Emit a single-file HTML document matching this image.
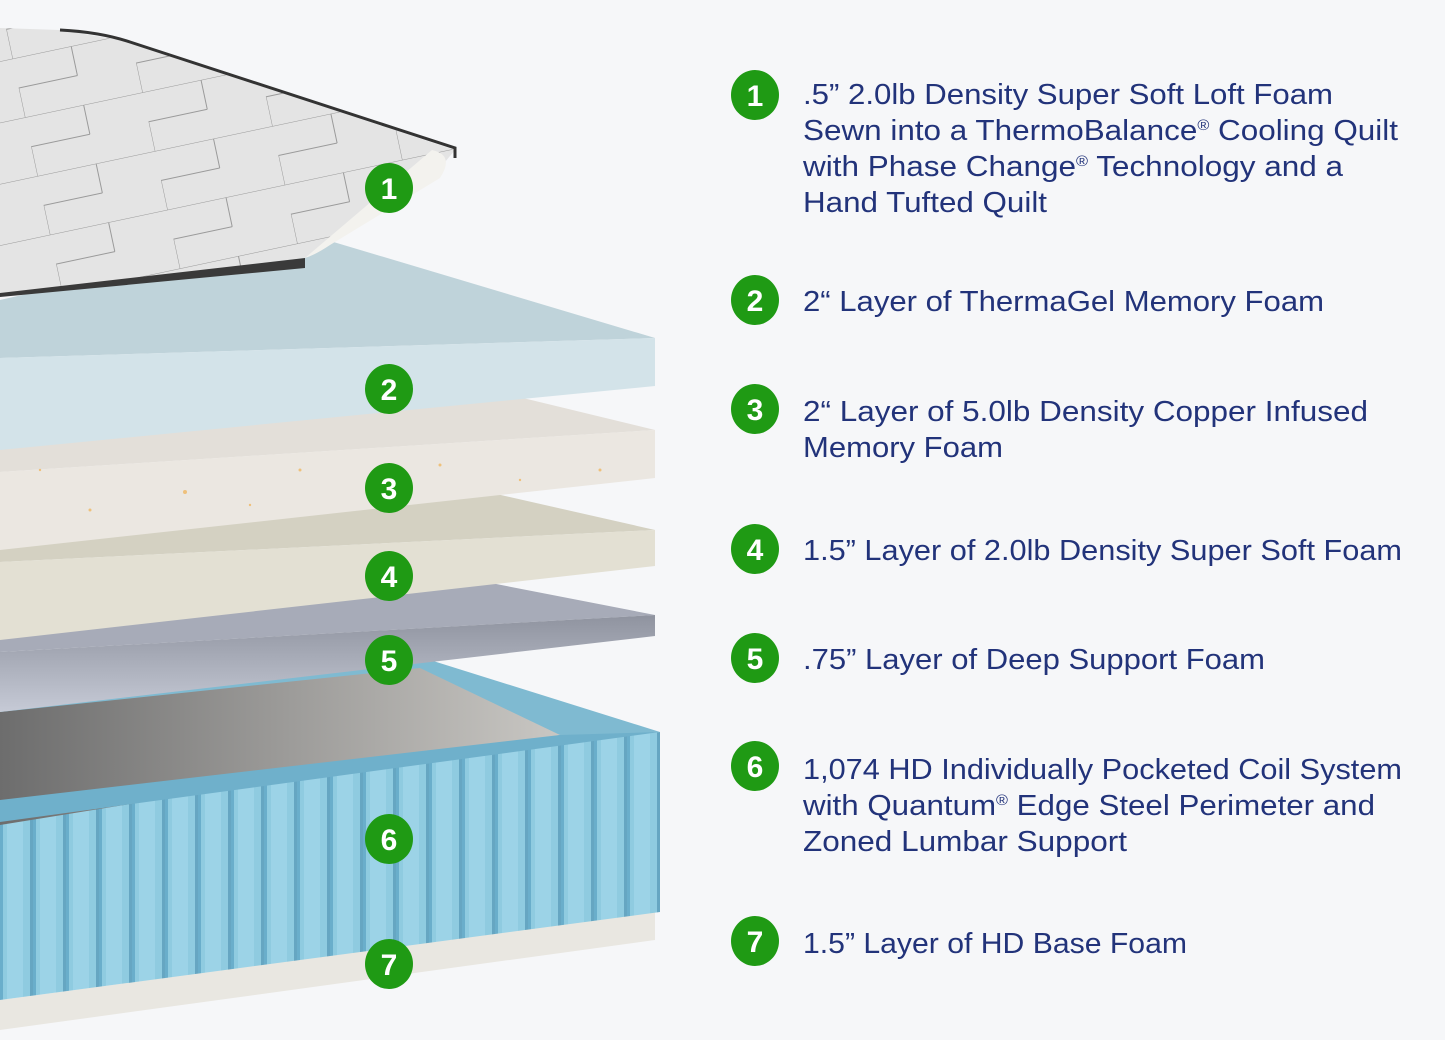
<!DOCTYPE html>
<html><head><meta charset="utf-8"><style>
html,body{margin:0;padding:0;background:#f6f7f9;}
svg{display:block;}
.t{font-family:"Liberation Sans",sans-serif;font-size:29px;fill:#22337a;}
.b{font-family:"Liberation Sans",sans-serif;font-size:30px;font-weight:bold;fill:#fff;}
.s{font-size:15px;}
</style></head><body>
<svg width="1445" height="1040" viewBox="0 0 1445 1040" xmlns="http://www.w3.org/2000/svg">
<defs>
<pattern id="coil" x="0" y="0" width="33" height="400" patternUnits="userSpaceOnUse">
<rect width="33" height="400" fill="#8fcbe0"/>
<rect x="0" width="3" height="400" fill="#6aaecb"/>
<rect x="7" width="16" height="400" fill="#9cd3e7"/>
<rect x="30" width="3" height="400" fill="#66a6c2"/>
</pattern>
<linearGradient id="gray" x1="0" y1="0" x2="1" y2="0">
<stop offset="0" stop-color="#6d6d6d"/><stop offset="1" stop-color="#c9c7c3"/>
</linearGradient>
<linearGradient id="l5" x1="0" y1="0" x2="0" y2="1">
<stop offset="0" stop-color="#8f939f"/><stop offset="1" stop-color="#c6cad6"/>
</linearGradient>
<pattern id="quilt" width="120" height="60" patternUnits="userSpaceOnUse" patternTransform="rotate(-12)">
<rect width="120" height="60" fill="#e4e4e4"/>
<path d="M0 0 H120 M0 30 H60 M60 0 V30 M0 30 V60" stroke="#9a9a9a" stroke-width="1" fill="none"/>
</pattern>
</defs>
<rect width="1445" height="1040" fill="#f6f7f9"/>

<polygon points="0,1000 655,912 655,940 0,1030" fill="#e9e7e1"/>
<polygon points="0,812 660,732 660,912 0,1000" fill="url(#coil)"/>
<polygon points="0,705 430,660 660,732 0,812" fill="#7fbad1"/>
<polygon points="0,712 420,668 560,735 0,825" fill="url(#gray)"/>
<polygon points="0,800 560,735 660,732 0,822" fill="#6fb0cb"/>
<polygon points="0,620 450,575 655,615 0,652" fill="#a7abb8"/>
<polygon points="0,652 655,615 655,636 0,712" fill="url(#l5)"/>
<polygon points="0,530 470,488 655,530 0,562" fill="#d4d1c2"/>
<polygon points="0,562 655,530 655,566 0,640" fill="#e3e0d3"/>
<polygon points="0,425 490,390 655,430 0,472" fill="#e3dfd9"/>
<polygon points="0,472 655,430 655,478 0,550" fill="#ebe7e1"/>
<g fill="#f0b050" opacity="0.7">
<circle cx="185" cy="492" r="2"/><circle cx="440" cy="465" r="1.5"/><circle cx="600" cy="470" r="1.5"/><circle cx="90" cy="510" r="1.5"/><circle cx="300" cy="470" r="1.5"/><circle cx="250" cy="505" r="1.2"/><circle cx="520" cy="480" r="1.2"/><circle cx="40" cy="470" r="1.2"/>
</g>
<polygon points="0,300 300,232 655,338 0,358" fill="#bfd3da"/>
<polygon points="0,358 655,338 655,386 0,450" fill="#d3e3e9"/>
<polygon points="0,28 60,30 120,40 455,150 430,180 360,225 305,258 0,295" fill="url(#quilt)"/>
<path d="M432,150 Q455,155 440,178 L330,245 Q315,255 305,258 Z" fill="#f3f2ee"/>
<path d="M60,30 Q100,32 130,42 L455,148 L455,158" stroke="#333" stroke-width="3" fill="none"/>
<path d="M0,293 L305,258 L305,268 L0,297 Z" fill="#3a3a3a"/>

<g>
<ellipse cx="389" cy="188" rx="24" ry="25" fill="#1f9a14"/><text class="b" x="389" y="199" text-anchor="middle">1</text>
<ellipse cx="389" cy="389" rx="24" ry="25" fill="#1f9a14"/><text class="b" x="389" y="400" text-anchor="middle">2</text>
<ellipse cx="389" cy="488" rx="24" ry="25" fill="#1f9a14"/><text class="b" x="389" y="499" text-anchor="middle">3</text>
<ellipse cx="389" cy="576" rx="24" ry="25" fill="#1f9a14"/><text class="b" x="389" y="587" text-anchor="middle">4</text>
<ellipse cx="389" cy="660" rx="24" ry="25" fill="#1f9a14"/><text class="b" x="389" y="671" text-anchor="middle">5</text>
<ellipse cx="389" cy="839" rx="24" ry="25" fill="#1f9a14"/><text class="b" x="389" y="850" text-anchor="middle">6</text>
<ellipse cx="389" cy="964" rx="24" ry="25" fill="#1f9a14"/><text class="b" x="389" y="975" text-anchor="middle">7</text>
</g>
<g>
<ellipse cx="755" cy="95" rx="24" ry="25" fill="#1f9a14"/><text class="b" x="755" y="106" text-anchor="middle">1</text>
<ellipse cx="755" cy="300" rx="24" ry="25" fill="#1f9a14"/><text class="b" x="755" y="311" text-anchor="middle">2</text>
<ellipse cx="755" cy="409" rx="24" ry="25" fill="#1f9a14"/><text class="b" x="755" y="420" text-anchor="middle">3</text>
<ellipse cx="755" cy="549" rx="24" ry="25" fill="#1f9a14"/><text class="b" x="755" y="560" text-anchor="middle">4</text>
<ellipse cx="755" cy="658" rx="24" ry="25" fill="#1f9a14"/><text class="b" x="755" y="669" text-anchor="middle">5</text>
<ellipse cx="755" cy="766" rx="24" ry="25" fill="#1f9a14"/><text class="b" x="755" y="777" text-anchor="middle">6</text>
<ellipse cx="755" cy="941" rx="24" ry="25" fill="#1f9a14"/><text class="b" x="755" y="952" text-anchor="middle">7</text>
</g>

<text class="t" x="803" y="104" textLength="530" lengthAdjust="spacingAndGlyphs">.5” 2.0lb Density Super Soft Loft Foam</text>
<text class="t" x="803" y="140" textLength="595" lengthAdjust="spacingAndGlyphs">Sewn into a ThermoBalance<tspan class="s" dy="-10">®</tspan><tspan dy="10"> Cooling Quilt</tspan></text>
<text class="t" x="803" y="176" textLength="540" lengthAdjust="spacingAndGlyphs">with Phase Change<tspan class="s" dy="-10">®</tspan><tspan dy="10"> Technology and a</tspan></text>
<text class="t" x="803" y="212" textLength="244" lengthAdjust="spacingAndGlyphs">Hand Tufted Quilt</text>
<text class="t" x="803" y="311" textLength="521" lengthAdjust="spacingAndGlyphs">2“ Layer of ThermaGel Memory Foam</text>
<text class="t" x="803" y="421" textLength="565" lengthAdjust="spacingAndGlyphs">2“ Layer of 5.0lb Density Copper Infused</text>
<text class="t" x="803" y="457" textLength="200" lengthAdjust="spacingAndGlyphs">Memory Foam</text>
<text class="t" x="803" y="560" textLength="599" lengthAdjust="spacingAndGlyphs">1.5” Layer of 2.0lb Density Super Soft Foam</text>
<text class="t" x="803" y="669" textLength="462" lengthAdjust="spacingAndGlyphs">.75” Layer of Deep Support Foam</text>
<text class="t" x="803" y="779" textLength="599" lengthAdjust="spacingAndGlyphs">1,074 HD Individually Pocketed Coil System</text>
<text class="t" x="803" y="815" textLength="572" lengthAdjust="spacingAndGlyphs">with Quantum<tspan class="s" dy="-10">®</tspan><tspan dy="10"> Edge Steel Perimeter and</tspan></text>
<text class="t" x="803" y="851" textLength="324" lengthAdjust="spacingAndGlyphs">Zoned Lumbar Support</text>
<text class="t" x="803" y="953" textLength="384" lengthAdjust="spacingAndGlyphs">1.5” Layer of HD Base Foam</text>
</svg>
</body></html>
